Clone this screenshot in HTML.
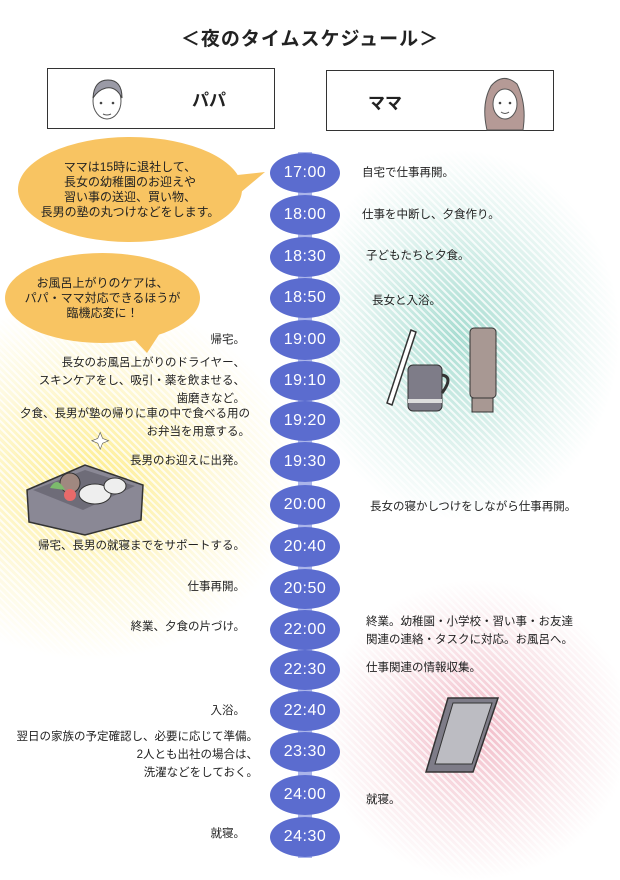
<!DOCTYPE html>
<html><head><meta charset="utf-8"><style>
body{margin:0;width:620px;height:877px;position:relative;overflow:hidden;background:#fff;font-family:"Liberation Sans","Noto Sans CJK JP",sans-serif;color:#222}
.a{position:absolute}
.bg{position:absolute;border-radius:50%}
.str{position:absolute;inset:0;background:repeating-linear-gradient(45deg,rgba(255,255,255,0) 0 3px,rgba(255,255,255,.75) 3px 5px)}
.ov{position:absolute;width:70px;height:40px;border-radius:50%;background:#5b6ccf;color:#fff;font-size:16px;text-align:center;line-height:40px;left:270px;letter-spacing:0.5px}
.l{position:absolute;right:375px;text-align:right;font-size:11.5px;line-height:18px;white-space:nowrap}
.r{position:absolute;left:362px;font-size:11.5px;line-height:18px;white-space:nowrap}
.box{position:absolute;border:1.5px solid #333;background:#fff}
.bub{position:absolute;background:#f8c462;border-radius:50%;font-size:12px;line-height:15px;text-align:center;color:#222;display:flex;align-items:center;justify-content:center}
</style></head><body>
<div class="bg" style="left:-120px;top:300px;width:420px;height:360px;background:radial-gradient(closest-side,rgba(253,234,120,.85),rgba(253,240,170,.4) 60%,rgba(255,255,255,0))"><div class="str" style="border-radius:50%"></div></div>
<div class="bg" style="left:300px;top:150px;width:320px;height:370px;background:radial-gradient(closest-side,rgba(140,210,195,.75),rgba(180,225,215,.35) 65%,rgba(255,255,255,0))"><div class="str" style="border-radius:50%"></div></div>
<div class="bg" style="left:320px;top:580px;width:310px;height:300px;background:radial-gradient(closest-side,rgba(235,150,170,.65),rgba(240,190,200,.3) 65%,rgba(255,255,255,0))"><div class="str" style="border-radius:50%"></div></div>

<div class="a" style="left:0;width:620px;top:24px;text-align:center;font-size:19px;font-weight:bold;letter-spacing:1px">＜夜のタイムスケジュール＞</div>
<div class="box" style="left:47px;top:68px;width:226px;height:59px"></div>
<div class="a" style="left:192px;top:86px;font-size:17px;font-weight:bold">パパ</div>
<svg class="a" style="left:86px;top:74px" width="42" height="52"><ellipse cx="21" cy="27" rx="14" ry="18" fill="#fff" stroke="#555"/><path d="M7 24 Q8 6 22 6 Q36 6 36 24 Q30 12 20 14 Q12 16 7 24Z" fill="#9a9aa6" stroke="#444"/><circle cx="15" cy="29" r="1.3" fill="#444"/><circle cx="27" cy="29" r="1.3" fill="#444"/><path d="M17 40 Q21 42 25 40" stroke="#555" fill="none"/></svg>
<div class="box" style="left:326px;top:70px;width:226px;height:59px"></div>
<div class="a" style="left:368px;top:89px;font-size:17px;font-weight:bold">ママ</div>
<svg class="a" style="left:479px;top:74px" width="50" height="58"><path d="M8 56 Q2 30 12 12 Q24 -2 38 10 Q48 30 44 56Z" fill="#b59a96" stroke="#555"/><ellipse cx="26" cy="30" rx="12" ry="15" fill="#fff" stroke="#555"/><circle cx="21" cy="29" r="1.3" fill="#444"/><circle cx="31" cy="29" r="1.3" fill="#444"/><path d="M22 38 Q26 41 30 38" stroke="#555" fill="none"/></svg>

<div class="a" style="left:298px;top:152px;width:14px;height:706px;background:#aab4ea"></div>
<div class="ov" style="top:153px">17:00</div>
<div class="ov" style="top:195px">18:00</div>
<div class="ov" style="top:237px">18:30</div>
<div class="ov" style="top:278px">18:50</div>
<div class="ov" style="top:320px">19:00</div>
<div class="ov" style="top:361px">19:10</div>
<div class="ov" style="top:401px">19:20</div>
<div class="ov" style="top:442px">19:30</div>
<div class="ov" style="top:485px">20:00</div>
<div class="ov" style="top:527px">20:40</div>
<div class="ov" style="top:569px">20:50</div>
<div class="ov" style="top:610px">22:00</div>
<div class="ov" style="top:650px">22:30</div>
<div class="ov" style="top:691px">22:40</div>
<div class="ov" style="top:732px">23:30</div>
<div class="ov" style="top:775px">24:00</div>
<div class="ov" style="top:817px">24:30</div>

<svg class="a" style="left:0;top:0" width="300" height="360"><path d="M228 176 L265 172 L234 198Z" fill="#f8c462"/><path d="M130 335 L147 353 L160 333Z" fill="#f8c462"/></svg>
<div class="bub" style="left:18px;top:137px;width:224px;height:105px">ママは15時に退社して、<br>長女の幼稚園のお迎えや<br>習い事の送迎、買い物、<br>長男の塾の丸つけなどをします。</div>
<div class="bub" style="left:5px;top:253px;width:195px;height:90px">お風呂上がりのケアは、<br>パパ・ママ対応できるほうが<br>臨機応変に！</div>

<div class="l" style="top:331px">帰宅。</div>
<div class="l" style="top:354px">長女のお風呂上がりのドライヤー、<br>スキンケアをし、吸引・薬を飲ませる、<br>歯磨きなど。</div>
<div class="l" style="top:405px;right:370px">夕食、長男が塾の帰りに車の中で食べる用の<br>お弁当を用意する。</div>
<div class="l" style="top:452px">長男のお迎えに出発。</div>
<div class="l" style="top:537px">帰宅、長男の就寝までをサポートする。</div>
<div class="l" style="top:578px">仕事再開。</div>
<div class="l" style="top:618px">終業、夕食の片づけ。</div>
<div class="l" style="top:702px">入浴。</div>
<div class="l" style="top:728px;right:362px">翌日の家族の予定確認し、必要に応じて準備。<br>2人とも出社の場合は、<br>洗濯などをしておく。</div>
<div class="l" style="top:825px">就寝。</div>

<div class="r" style="top:164px">自宅で仕事再開。</div>
<div class="r" style="top:206px">仕事を中断し、夕食作り。</div>
<div class="r" style="top:247px;left:366px">子どもたちと夕食。</div>
<div class="r" style="top:292px;left:372px">長女と入浴。</div>
<div class="r" style="top:498px;left:370px">長女の寝かしつけをしながら仕事再開。</div>
<div class="r" style="top:613px;left:366px">終業。幼稚園・小学校・習い事・お友達<br>関連の連絡・タスクに対応。お風呂へ。</div>
<div class="r" style="top:659px;left:366px">仕事関連の情報収集。</div>
<div class="r" style="top:791px;left:366px">就寝。</div>

<svg class="a" style="left:375px;top:325px" width="130" height="95"><path d="M12 78 L36 5 L41 7 L17 80Z" fill="#fff" stroke="#333" stroke-width="1.5"/><rect x="33" y="40" width="34" height="46" rx="5" fill="#7e7c88" stroke="#333"/><rect x="33" y="74" width="34" height="4" fill="#ddd"/><path d="M67 50 Q79 52 67 68" fill="none" stroke="#333" stroke-width="3"/><rect x="95" y="3" width="26" height="70" rx="4" fill="#a89893" stroke="#333"/><rect x="97" y="73" width="21" height="14" fill="#a89893" stroke="#333"/></svg>
<svg class="a" style="left:15px;top:430px" width="135" height="110"><path d="M68 14 L72 4 L76 14 L86 18 L76 22 L72 32 L68 22 L58 18Z" fill="#fff" stroke="#555" transform="scale(.6) translate(70,0)"/><path d="M12 60 L70 35 L128 55 L126 90 L70 105 L14 92Z" fill="#8a8895" stroke="#333" stroke-width="1.5"/><path d="M18 60 L70 40 L120 56 L68 80Z" fill="#6e6c78"/><ellipse cx="80" cy="64" rx="16" ry="10" fill="#eee" stroke="#333"/><ellipse cx="100" cy="56" rx="11" ry="8" fill="#eee" stroke="#333"/><circle cx="55" cy="53" r="10" fill="#a08880" stroke="#333"/><circle cx="55" cy="65" r="6" fill="#e86a6a"/><path d="M35 58 Q42 45 50 60" fill="#7cba6c"/></svg>
<svg class="a" style="left:418px;top:672px" width="90" height="110"><path d="M30 26 L80 26 L55 100 L8 100Z" fill="#7e7c88" stroke="#333" stroke-width="1.5"/><path d="M35 31 L74 31 L54 92 L17 92Z" fill="#bcbcc2" stroke="#333"/></svg>
</body></html>
